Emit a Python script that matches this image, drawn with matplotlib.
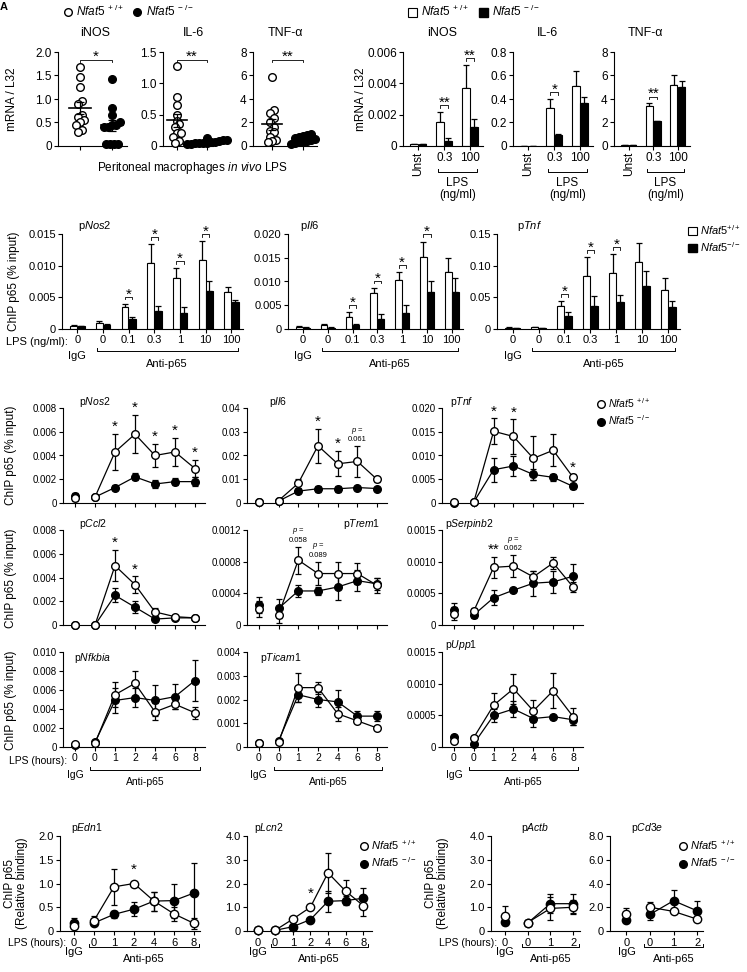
import numpy as np
import matplotlib
matplotlib.use('Agg')
import matplotlib.pyplot as plt
from matplotlib.lines import Line2D
from matplotlib.patches import Patch

plt.rcParams['font.family'] = ['Liberation Sans', 'DejaVu Sans']
plt.rcParams['mathtext.fontset'] = 'custom'
plt.rcParams['mathtext.rm'] = 'Liberation Sans'
plt.rcParams['mathtext.it'] = 'Liberation Sans:italic'
plt.rcParams['axes.linewidth'] = 0.8

WT_LABEL = r'$\mathit{Nfat5}^{\ +/+}$'
KO_LABEL = r'$\mathit{Nfat5}^{\ -/-}$'

# ---------------- A: in vivo peritoneal macrophages (scatter) ----------------
a_titles = ['iNOS', 'IL-6', 'TNF-α']
a_wt = [[1.68, 1.47, 1.25, 0.95, 0.9, 0.65, 0.62, 0.55, 0.5, 0.45, 0.35, 0.3],
        [1.28, 0.78, 0.65, 0.5, 0.4, 0.35, 0.3, 0.2, 0.2, 0.15, 0.08, 0.05],
        [5.9, 3.05, 2.8, 2.4, 2.0, 1.6, 1.3, 1.2, 0.8, 0.5, 0.4, 0.3]]
a_ko = [[1.42, 0.8, 0.65, 0.5, 0.45, 0.45, 0.4, 0.4, 0.05, 0.05, 0.05, 0.05],
        [0.12, 0.1, 0.1, 0.08, 0.07, 0.06, 0.05, 0.05, 0.04, 0.04, 0.03, 0.03],
        [1.0, 0.9, 0.85, 0.8, 0.7, 0.6, 0.5, 0.45, 0.35, 0.3, 0.25, 0.2]]
a_yticklabels = [['0', '0.5', '1.0', '1.5', '2.0'],
                 ['0', '0.5', '1.0', '1.5'],
                 ['0', '2', '4', '6', '8']]
a_sig = ['*', '**', '**']

# ---------------- B: mRNA after LPS dose (bars) ----------------
b_titles = ['iNOS', 'IL-6', 'TNF-α']
b_groups = ['Unst', '0.3', '100']
b_wt = [[0.0001, 0.0015, 0.0037], [0.002, 0.32, 0.51], [0.1, 3.4, 5.2]]
b_wt_err = [[0.00002, 0.0007, 0.0015], [0.001, 0.08, 0.13], [0.02, 0.25, 0.85]]
b_ko = [[0.0001, 0.00035, 0.0012], [0.002, 0.09, 0.37], [0.05, 2.1, 5.0]]
b_ko_err = [[0.00002, 0.00015, 0.00055], [0.001, 0.008, 0.05], [0.01, 0.06, 0.5]]
b_yticklabels = [['0', '0.002', '0.004', '0.006'],
                 ['0', '0.2', '0.4', '0.6', '0.8'],
                 ['0', '2', '4', '6', '8']]
b_sig = [[(1, '**'), (2, '**')], [(1, '*')], [(1, '**')]]

# ---------------- C: ChIP p65 vs LPS dose (bars) ----------------
c_titles = ['Nos2', 'Il6', 'Tnf']
c_doses = ['0', '0', '0.1', '0.3', '1', '10', '100']
c_wt = [[0.0005, 0.001, 0.0035, 0.0104, 0.0081, 0.0109, 0.0058],
        [0.0005, 0.0008, 0.0026, 0.0075, 0.0103, 0.0152, 0.0119],
        [0.002, 0.003, 0.036, 0.084, 0.088, 0.105, 0.061]]
c_wt_err = [[0.0001, 0.0002, 0.0005, 0.003, 0.0015, 0.003, 0.0009],
            [0.0001, 0.0002, 0.001, 0.0012, 0.0017, 0.0032, 0.003],
            [0.0005, 0.0005, 0.008, 0.029, 0.03, 0.031, 0.02]]
c_ko = [[0.0004, 0.0007, 0.0015, 0.0028, 0.0026, 0.006, 0.0043],
        [0.0003, 0.0003, 0.0009, 0.0022, 0.0033, 0.0078, 0.0077],
        [0.002, 0.002, 0.02, 0.036, 0.042, 0.068, 0.035]]
c_ko_err = [[0.0001, 0.0001, 0.0004, 0.0009, 0.0008, 0.0016, 0.0003],
            [0.0001, 0.0001, 0.0002, 0.001, 0.0018, 0.0024, 0.003],
            [0.0003, 0.0003, 0.007, 0.016, 0.012, 0.024, 0.009]]
c_yticklabels = [['0', '0.005', '0.010', '0.015'],
                 ['0', '0.005', '0.010', '0.015', '0.020'],
                 ['0', '0.05', '0.10', '0.15']]
c_sig = [[2, 3, 4, 5], [2, 3, 4, 5], [2, 3, 4]]

# ---------------- D: ChIP p65 time course (lines) ----------------
d_titles = ['Nos2', 'Il6', 'Tnf', 'Ccl2', 'Trem1', 'Serpinb2', 'Nfkbia', 'Ticam1', 'Upp1']
d_hours = ['0', '0', '1', '2', '4', '6', '8']
d_wt = [[0.0004, 0.0005, 0.0043, 0.0058, 0.0040, 0.0043, 0.0029],
        [0.0005, 0.0010, 0.0083, 0.0241, 0.0165, 0.0175, 0.0099],
        [0.0002, 0.0002, 0.0151, 0.0140, 0.0094, 0.0111, 0.0054],
        [0.0000, 0.0000, 0.0050, 0.0034, 0.0011, 0.0007, 0.0006],
        [0.00020, 0.00013, 0.00082, 0.00065, 0.00065, 0.00065, 0.00050],
        [0.00018, 0.00022, 0.00091, 0.00093, 0.00076, 0.00098, 0.00060],
        [0.0003, 0.0004, 0.0055, 0.0067, 0.0037, 0.0045, 0.0036],
        [0.00015, 0.00020, 0.0025, 0.0025, 0.0014, 0.0011, 0.0008],
        [0.00010, 0.00015, 0.00066, 0.00092, 0.00057, 0.00089, 0.00048]]
d_wt_err = [[0.0002, 0.0001, 0.0015, 0.0016, 0.0010, 0.0012, 0.0007],
            [0.0005, 0.0005, 0.0020, 0.0072, 0.0053, 0.0065, 0.0010],
            [0.0001, 0.0001, 0.0027, 0.0036, 0.0046, 0.0034, 0.0006],
            [0.0000, 0.0000, 0.0013, 0.0007, 0.0003, 0.0001, 0.0001],
            [0.00010, 0.00010, 0.00017, 0.00015, 0.00015, 0.00013, 0.00010],
            [0.00010, 0.00005, 0.00017, 0.00017, 0.00010, 0.00009, 0.00008],
            [0.0001, 0.0001, 0.0013, 0.0013, 0.0009, 0.0005, 0.0006],
            [0.00005, 0.00005, 0.0006, 0.00025, 0.0003, 0.0001, 0.0001],
            [0.00003, 0.00003, 0.00020, 0.00024, 0.00018, 0.00028, 0.00013]]
d_ko = [[0.0006, 0.0005, 0.0013, 0.0022, 0.0016, 0.0018, 0.0018],
        [0.0003, 0.0008, 0.0050, 0.0060, 0.0060, 0.0065, 0.0061],
        [0.0001, 0.0002, 0.0070, 0.0078, 0.0060, 0.0054, 0.0035],
        [0.0000, 0.0000, 0.0025, 0.0015, 0.0005, 0.0006, 0.0006],
        [0.00025, 0.00021, 0.00043, 0.00043, 0.00048, 0.00056, 0.00052],
        [0.00024, 0.00016, 0.00043, 0.00055, 0.00066, 0.00068, 0.00077],
        [0.0002, 0.0005, 0.0049, 0.0052, 0.0049, 0.0053, 0.0070],
        [0.00015, 0.00025, 0.0022, 0.0020, 0.0019, 0.0013, 0.0013],
        [0.00016, 0.00005, 0.00050, 0.00060, 0.00045, 0.00048, 0.00043]]
d_ko_err = [[0.0002, 0.0001, 0.0002, 0.0003, 0.0003, 0.0003, 0.0004],
            [0.0002, 0.0003, 0.0010, 0.0012, 0.0012, 0.0008, 0.0008],
            [0.0001, 0.0001, 0.0025, 0.0021, 0.0012, 0.0008, 0.0006],
            [0.0000, 0.0000, 0.0006, 0.0005, 0.0001, 0.0001, 0.0001],
            [0.00010, 0.00012, 0.00008, 0.00005, 0.00016, 0.00013, 0.00008],
            [0.00010, 0.00005, 0.00012, 0.00003, 0.00020, 0.00017, 0.00020],
            [0.0001, 0.0001, 0.0013, 0.0010, 0.0016, 0.0013, 0.0022],
            [0.00005, 0.00005, 0.0003, 0.0003, 0.0005, 0.0002, 0.0002],
            [0.00003, 0.00003, 0.00010, 0.00012, 0.00014, 0.00003, 0.00008]]
d_yticklabels = [['0', '0.002', '0.004', '0.006', '0.008'],
                 ['0', '0.01', '0.02', '0.03', '0.04'],
                 ['0', '0.005', '0.010', '0.015', '0.020'],
                 ['0', '0.002', '0.004', '0.006', '0.008'],
                 ['0', '0.0004', '0.0008', '0.0012'],
                 ['0', '0.0005', '0.0010', '0.0015'],
                 ['0', '0.002', '0.004', '0.006', '0.008', '0.010'],
                 ['0', '0.001', '0.002', '0.003', '0.004'],
                 ['0', '0.0005', '0.0010', '0.0015']]
d_sig = [[(2, '*'), (3, '*'), (4, '*'), (5, '*'), (6, '*')],
         [(3, '*'), (4, '*'), (5, '0.061')],
         [(2, '*'), (3, '*'), (6, '*')],
         [(2, '*'), (3, '*')],
         [(2, '0.058'), (3, '0.089')],
         [(2, '**'), (3, '0.062')],
         [], [], []]

# ---------------- E: relative binding (lines) ----------------
e_titles = ['Edn1', 'Lcn2', 'Actb', 'Cd3e']
e_hours = [['0', '0', '1', '2', '4', '6', '8'], ['0', '0', '1', '2', '4', '6', '8'],
           ['0', '0', '1', '2'], ['0', '0', '1', '2']]
e_wt = [[0.10, 0.22, 0.93, 1.00, 0.63, 0.36, 0.16], [0.03, 0.03, 0.50, 1.00, 2.45, 1.68, 1.07],
        [0.65, 0.35, 0.95, 1.00], [1.45, 2.00, 1.65, 1.00]]
e_wt_err = [[0.10, 0.10, 0.38, 0.02, 0.20, 0.14, 0.12], [0.01, 0.01, 0.03, 0.03, 0.85, 0.45, 0.45],
            [0.40, 0.10, 0.50, 0.30], [0.50, 0.45, 0.10, 0.10]]
e_ko = [[0.17, 0.17, 0.35, 0.46, 0.63, 0.64, 0.80], [0.03, 0.03, 0.18, 0.48, 1.25, 1.28, 1.38],
        [0.40, 0.33, 1.15, 1.15], [0.90, 1.40, 2.55, 1.70]]
e_ko_err = [[0.10, 0.05, 0.07, 0.15, 0.20, 0.36, 0.63], [0.01, 0.01, 0.03, 0.05, 0.45, 0.20, 0.42],
            [0.10, 0.05, 0.40, 0.40], [0.10, 0.50, 0.90, 0.80]]
e_yticklabels = [['0', '0.5', '1.0', '1.5', '2.0'], ['0', '1.0', '2.0', '3.0', '4.0'],
                 ['0', '1.0', '2.0', '3.0', '4.0'], ['0', '2.0', '4.0', '6.0', '8.0']]
e_sig = [[(3, '*')], [(3, '*')], [], []]

W, H = 747, 972
fig = plt.figure(figsize=(W / 100, H / 100), dpi=100)


def px_axes(l, t, r, b, fs=8):
    ax = fig.add_axes([l / W, 1 - b / H, (r - l) / W, (b - t) / H])
    ax.spines['top'].set_visible(False)
    ax.spines['right'].set_visible(False)
    ax.tick_params(direction='out', length=3, width=0.8, labelsize=fs, pad=1.5)
    return ax


def ftext(x, y, s, **kw):
    kw.setdefault('ha', 'center')
    kw.setdefault('va', 'center')
    fig.text(x / W, 1 - y / H, s, **kw)


def set_yticks(ax, labels):
    vals = [float(v) for v in labels]
    ax.set_ylim(0, vals[-1])
    ax.set_yticks(vals)
    ax.set_yticklabels(labels)
    return vals[-1]


def under_bracket(ax, x0, x1, dy, label=None, label_dy=None, fs=8):
    h = ax.get_position().height * H
    y = -dy / h
    k = 3 / h
    ax.plot([x0 - 0.25, x0 - 0.25, x1 + 0.25, x1 + 0.25], [y + k, y, y, y + k],
            transform=ax.get_xaxis_transform(), clip_on=False, color='black', lw=0.7)
    if label:
        ax.text((x0 + x1) / 2, -label_dy / h, label, transform=ax.get_xaxis_transform(),
                ha='center', va='center', fontsize=fs, linespacing=1.0)


def sig_bracket(ax, x0, x1, y, ymax, star, fs=11):
    d = 0.03 * ymax
    ax.plot([x0, x0, x1, x1], [y - d, y, y, y - d], color='black', lw=0.6, clip_on=False)
    ax.text((x0 + x1) / 2, y - 0.05 * ymax, star, ha='center', va='bottom', fontsize=fs)


def swarm(vals, ymax, step=0.13):
    vals = np.asarray(vals)
    order = np.argsort(vals)
    offs = np.zeros(len(vals))
    groups, cur = [], [order[0]]
    for i in order[1:]:
        if vals[i] - vals[cur[0]] < 0.06 * ymax:
            cur.append(i)
        else:
            groups.append(cur)
            cur = [i]
    groups.append(cur)
    for g in groups:
        for j, idx in enumerate(g):
            offs[idx] = (j - (len(g) - 1) / 2) * step
    return offs


def bar_panel(ax, wt, wt_err, ko, ko_err, w=0.27):
    x = np.arange(len(wt))
    ax.bar(x - w / 2 - 0.01, wt, w, color='white', edgecolor='black', lw=0.8, zorder=2)
    ax.bar(x + w / 2 + 0.01, ko, w, color='black', edgecolor='black', lw=0.8, zorder=2)
    ax.errorbar(x - w / 2 - 0.01, wt, yerr=[np.zeros(len(wt)), wt_err], fmt='none',
                ecolor='black', elinewidth=0.9, capsize=2, capthick=0.9, zorder=1)
    ax.errorbar(x + w / 2 + 0.01, ko, yerr=[np.zeros(len(ko)), ko_err], fmt='none',
                ecolor='black', elinewidth=0.9, capsize=2, capthick=0.9, zorder=1)
    return x - w / 2 - 0.01, x + w / 2 + 0.01


def line_panel(ax, wt, wt_err, ko, ko_err, ms=5.5):
    x = np.arange(len(wt))
    z = 2
    for vals, errs, face in ((ko, ko_err, 'black'), (wt, wt_err, 'white')):
        ax.errorbar(x, vals, yerr=errs, fmt='none', ecolor='black', elinewidth=0.9,
                    capsize=2.5, capthick=0.9, zorder=z)
        ax.plot(x[1:], vals[1:], color='black', lw=0.9, zorder=z + 1)
        ax.plot(x, vals, 'o', ms=ms, mfc=face, mec='black', mew=1.0, ls='none',
                zorder=z + 2, clip_on=False)
        z += 3


def circle_legend(x, y, fs=8, ms=5.5, ncol=1):
    h = [Line2D([], [], marker='o', ls='none', ms=ms, mfc='white', mec='black', mew=1.0),
         Line2D([], [], marker='o', ls='none', ms=ms, mfc='black', mec='black', mew=1.0)]
    fig.legend(h, [WT_LABEL, KO_LABEL], loc='upper left', bbox_to_anchor=(x / W, 1 - y / H),
               frameon=False, fontsize=fs, handletextpad=0.2, labelspacing=0.35,
               handlelength=1.0, borderpad=0, borderaxespad=0, ncol=ncol, columnspacing=0.6)


# panel letter
ftext(4, 7, 'A', fontsize=8, fontweight='bold')

# ---- A ----
a_boxes = [(58, 127), (163, 213), (253, 317)]
a_xlims = [(0.31, 2.47), (0.55, 2.2), (0.39, 2.45)]
a_title_x = [95, 193, 285]
for i in range(3):
    ax = px_axes(a_boxes[i][0], 52, a_boxes[i][1], 146, fs=8.5)
    ymax = set_yticks(ax, a_yticklabels[i])
    for pos, vals, face in ((1, a_wt[i], 'white'), (2, a_ko[i], 'black')):
        v = np.array(vals)
        ax.plot(pos + swarm(v, ymax), v, 'o', ms=5.5, mfc=face, mec='black', mew=1.0,
                ls='none', clip_on=False, zorder=3)
        m = v.mean()
        sem = v.std(ddof=1) / np.sqrt(len(v))
        ax.plot([pos - 0.33, pos + 0.33], [m, m], color='black', lw=1.2, zorder=4)
        ax.errorbar(pos, m, yerr=sem, fmt='none', ecolor='black', elinewidth=0.9,
                    capsize=3, capthick=0.9, zorder=4)
    ax.set_xlim(*a_xlims[i])
    ax.set_xticks([1, 2])
    ax.set_xticklabels([])
    sig_bracket(ax, 1, 2, 0.92 * ymax, ymax, a_sig[i])
    ftext(a_title_x[i], 33, a_titles[i], fontsize=9)
ftext(12, 99, 'mRNA / L32', fontsize=8.5, rotation=90)
ftext(192, 168, r'Peritoneal macrophages $\mathit{in\ vivo}$ LPS', fontsize=8.5)
circle_legend(62, 4, fs=8.5, ncol=2)

# ---- B ----
b_boxes = [(403, 483), (513, 593), (614, 690)]
b_title_x = [442, 548, 645]
for i in range(3):
    ax = px_axes(b_boxes[i][0], 52, b_boxes[i][1], 146, fs=8.5)
    ymax = set_yticks(ax, b_yticklabels[i])
    xw, xk = bar_panel(ax, b_wt[i], b_wt_err[i], b_ko[i], b_ko_err[i], w=0.3)
    ax.set_xlim(-0.6, 2.5)
    ax.set_xticks(range(3))
    labs = ax.set_xticklabels(b_groups)
    labs[0].set_rotation(90)
    for g, star in b_sig[i]:
        top = b_wt[i][g] + b_wt_err[i][g]
        sig_bracket(ax, xw[g], xk[g], top + 0.07 * ymax, ymax, star)
    under_bracket(ax, 1, 2, 26, 'LPS\n(ng/ml)', 43, fs=8.5)
    ftext(b_title_x[i], 33, b_titles[i], fontsize=9)
ftext(361, 99, 'mRNA / L32', fontsize=8.5, rotation=90)
hb = [Patch(facecolor='white', edgecolor='black', lw=0.8), Patch(facecolor='black', edgecolor='black')]
fig.legend(hb, [WT_LABEL, KO_LABEL], loc='upper left', bbox_to_anchor=(408 / W, 1 - 4 / H),
           ncol=2, frameon=False, fontsize=8.5, handletextpad=0.3, columnspacing=0.8,
           handlelength=0.8, handleheight=0.8, borderpad=0, borderaxespad=0)

# ---- C ----
c_boxes = [(62, 243), (288, 463), (497, 680)]
c_title_x = [78, 300, 517]
for i in range(3):
    ax = px_axes(c_boxes[i][0], 234, c_boxes[i][1], 329, fs=8)
    ymax = set_yticks(ax, c_yticklabels[i])
    xw, xk = bar_panel(ax, c_wt[i], c_wt_err[i], c_ko[i], c_ko_err[i])
    ax.set_xlim(-0.6, 6.45)
    ax.set_xticks(range(7))
    ax.set_xticklabels(c_doses)
    for g in c_sig[i]:
        top = c_wt[i][g] + c_wt_err[i][g]
        sig_bracket(ax, xw[g], xk[g], top + 0.075 * ymax, ymax, '*')
    h = ax.get_position().height * H
    ax.text(0, -27 / h, 'IgG', transform=ax.get_xaxis_transform(), ha='center', va='center', fontsize=8)
    under_bracket(ax, 1, 6, 22, 'Anti-p65', 35, fs=8)
    ftext(c_title_x[i], 226, 'p' + r'$\mathit{' + c_titles[i] + '}$', fontsize=8, ha='left')
ftext(68, 342, 'LPS (ng/ml):', fontsize=8, ha='right')
ftext(14, 281, 'ChIP p65 (% input)', fontsize=8.5, rotation=90)
hc = [Patch(facecolor='white', edgecolor='black', lw=0.8), Patch(facecolor='black', edgecolor='black')]
fig.legend(hc, [r'$\mathit{Nfat5}^{+/+}$', r'$\mathit{Nfat5}^{-/-}$'], loc='upper left',
           bbox_to_anchor=(688 / W, 1 - 223 / H), frameon=False, fontsize=8,
           handletextpad=0.3, labelspacing=0.3, handlelength=0.8, handleheight=0.8,
           borderpad=0, borderaxespad=0)

# ---- D ----
d_cols = [(63, 205), (247, 387), (442, 583)]
d_rows = [(408, 503), (530, 625), (652, 747)]
d_title_pos = [(0.11, 1.06, 'left'), (0.16, 1.06, 'left'), (0.06, 1.06, 'left'),
               (0.11, 1.06, 'left'), (0.95, 1.06, 'right'), (0.02, 1.06, 'left'),
               (0.08, 0.94, 'left'), (0.09, 0.94, 'left'), (0.02, 1.07, 'left')]
for k in range(9):
    r, c = divmod(k, 3)
    ax = px_axes(d_cols[c][0], d_rows[r][0], d_cols[c][1], d_rows[r][1], fs=7)
    ymax = set_yticks(ax, d_yticklabels[k])
    line_panel(ax, d_wt[k], d_wt_err[k], d_ko[k], d_ko_err[k])
    ax.set_xlim(-0.6, 6.5)
    ax.set_xticks(range(7))
    if r < 2:
        ax.set_xticklabels([])
    else:
        ax.set_xticklabels(d_hours)
        ax.tick_params(axis='x', labelsize=7.5)
        h = ax.get_position().height * H
        ax.text(0, -28 / h, 'IgG', transform=ax.get_xaxis_transform(), ha='center', va='center', fontsize=7.5)
        under_bracket(ax, 1, 6, 23, 'Anti-p65', 35, fs=7.5)
    tx, ty, tha = d_title_pos[k]
    ax.text(tx, ty, 'p' + r'$\mathit{' + d_titles[k] + '}$', transform=ax.transAxes,
            ha=tha, va='center', fontsize=7.5)
    for g, lab in d_sig[k]:
        top = d_wt[k][g] + d_wt_err[k][g]
        if lab.startswith('0'):
            ax.text(g, top + 0.03 * ymax, '$p$ =\n' + lab, ha='center', va='bottom',
                    fontsize=5.5, linespacing=1.1)
        else:
            ax.text(g, top, lab, ha='center', va='bottom', fontsize=11)
for yc in (455, 578, 700):
    ftext(11, yc, 'ChIP p65 (% input)', fontsize=8.5, rotation=90)
ftext(67, 761, 'LPS (hours):', fontsize=7.5, ha='right')
circle_legend(596, 396, fs=7.5)

# ---- E ----
e_boxes = [(60, 200), (247, 372), (491, 580), (610, 703)]
e_xlims = [(-0.7, 6.3), (-0.6, 6.5), (-0.6, 3.3), (-0.7, 3.25)]
e_title_pos = [(0.08, 'left'), (0.06, 'left'), (0.5, 'center'), (0.4, 'center')]
for k in range(4):
    ax = px_axes(e_boxes[k][0], 836, e_boxes[k][1], 931, fs=8)
    ymax = set_yticks(ax, e_yticklabels[k])
    line_panel(ax, e_wt[k], e_wt_err[k], e_ko[k], e_ko_err[k], ms=6)
    n = len(e_hours[k])
    ax.set_xlim(*e_xlims[k])
    ax.set_xticks(range(n))
    ax.set_xticklabels(e_hours[k])
    ax.tick_params(axis='x', labelsize=8, pad=2)
    h = ax.get_position().height * H
    ax.text(0, -21 / h, 'IgG', transform=ax.get_xaxis_transform(), ha='center', va='center', fontsize=8)
    under_bracket(ax, 1, n - 1, 16, 'Anti-p65', 28, fs=8)
    tx, tha = e_title_pos[k]
    ax.text(tx, 1.08, 'p' + r'$\mathit{' + e_titles[k] + '}$', transform=ax.transAxes,
            ha=tha, va='center', fontsize=7.5)
    for g, lab in e_sig[k]:
        top = e_wt[k][g] + e_wt_err[k][g]
        ax.text(g, top + 0.06 * ymax, lab, ha='center', va='bottom', fontsize=11)
for xc in (16, 437):
    ftext(xc, 883, 'ChIP p65\n(Relative binding)', fontsize=8.5, rotation=90, linespacing=1.1)
ftext(66, 943, 'LPS (hours):', fontsize=7.5, ha='right')
ftext(497, 943, 'LPS (hours):', fontsize=7.5, ha='right')
circle_legend(358, 838, fs=8)
circle_legend(677, 838, fs=8)

fig.savefig('out.png', dpi=100)
